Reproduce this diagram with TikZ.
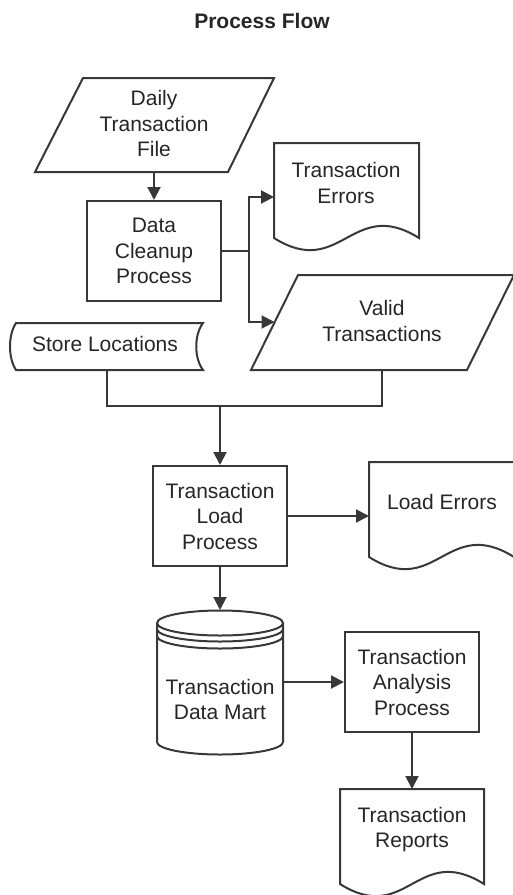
\documentclass[tikz,border=0pt]{standalone}
\usepackage{fontspec}
\setmainfont{Liberation Sans}
\usetikzlibrary{arrows.meta}
\definecolor{ln}{gray}{0.22}
\definecolor{tx}{gray}{0.15}
\begin{document}
\begin{tikzpicture}[x=1pt,y=-1pt,line width=2pt,draw=ln,
  every node/.style={font=\fontsize{21}{25.5}\selectfont,align=center,inner sep=0pt,text=tx},
  proc/.style={draw=ln,fill=white,line width=2pt,minimum width=134pt,minimum height=100pt},
  shp/.style={draw=ln,fill=white,line width=2pt,line join=miter},
  conn/.style={draw=ln,line width=2pt},
  arr/.style={conn,-{Triangle[length=13pt,width=13pt]}}]
\useasboundingbox (0,0) rectangle (512,895);

% title
\node[font=\bfseries\fontsize{21}{25.5}\selectfont] (title) at (262,21) {Process Flow};

% Daily Transaction File (parallelogram)
\draw[shp] (35,172) -- (83,78) -- (274,78) -- (228,172) -- cycle;
\node (dtf) at (154,123.5) {Daily\\Transaction\\File};
\coordinate (dtfb) at (154,172);

% Data Cleanup Process
\node[proc] (dcp) at (154,251) {Data\\Cleanup\\Process};

% Transaction Errors (document)
\draw[shp] (274,143) -- (419,143) -- (419,238)
  .. controls (352,196) and (341,280) .. (274,238) -- cycle;
\node (te) at (346,183) {Transaction\\Errors};
\coordinate (tew) at (274,197);

% Valid Transactions (parallelogram)
\draw[shp] (251,370) -- (298,275) -- (514,275) -- (467,370) -- cycle;
\node (vt) at (382,321) {Valid\\Transactions};
\coordinate (vtw) at (274.5,322);
\coordinate (vtb) at (382,370);

% Store Locations (stored data)
\draw[shp] (16,323) -- (203,323) .. controls (194,335) and (194,358) .. (203,370)
  -- (16,370) .. controls (8,358) and (8,335) .. (16,323) -- cycle;
\node (sl) at (105,344) {Store Locations};
\coordinate (slb) at (107,370);

% Transaction Load Process
\node[proc] (tlp) at (220,516) {Transaction\\Load\\Process};

% Load Errors (document)
\draw[shp] (369,462) -- (514,462) -- (514,557)
  .. controls (447,515) and (436,599) .. (369,557) -- cycle;
\node (le) at (442,502) {Load Errors};
\coordinate (lew) at (369,516);

% Transaction Data Mart (cylinder)
\draw[shp] (157,623) -- (157,742) arc[start angle=180,end angle=0,x radius=63,y radius=12.5]
  -- (283,623) arc[start angle=0,end angle=-180,x radius=63,y radius=12.5] -- cycle;
\draw[conn] (157,623) arc[start angle=180,end angle=0,x radius=63,y radius=12.5];
\draw[conn] (157,629) arc[start angle=180,end angle=0,x radius=63,y radius=12.5];
\draw[conn] (157,636) arc[start angle=180,end angle=0,x radius=63,y radius=12.5];
\node (dm) at (220,699.5) {Transaction\\Data Mart};
\coordinate (dmt) at (220,610);
\coordinate (dme) at (283,682);

% Transaction Analysis Process
\node[proc] (tap) at (412,682) {Transaction\\Analysis\\Process};

% Transaction Reports (document)
\draw[shp] (340,789) -- (484,789) -- (484,884)
  .. controls (417,842) and (407,926) .. (340,884) -- cycle;
\node (tr) at (412,829.5) {Transaction\\Reports};
\coordinate (trt) at (412,789);

% connectors
\draw[arr] (dtfb) -- (dcp.north);
\coordinate (split) at (249,251);
\draw[conn] (dcp.east) -- (split);
\draw[arr] (split) |- (tew);
\draw[arr] (split) |- (vtw);
\coordinate (merge) at (220,406);
\draw[conn] (slb) -- (slb |- merge) -- (vtb |- merge) -- (vtb);
\draw[arr] (merge) -- (tlp.north);
\draw[arr] (tlp.east) -- (lew);
\draw[arr] (tlp.south) -- (dmt);
\draw[arr] (dme) -- (tap.west);
\draw[arr] (tap.south) -- (trt);
\end{tikzpicture}
\end{document}
